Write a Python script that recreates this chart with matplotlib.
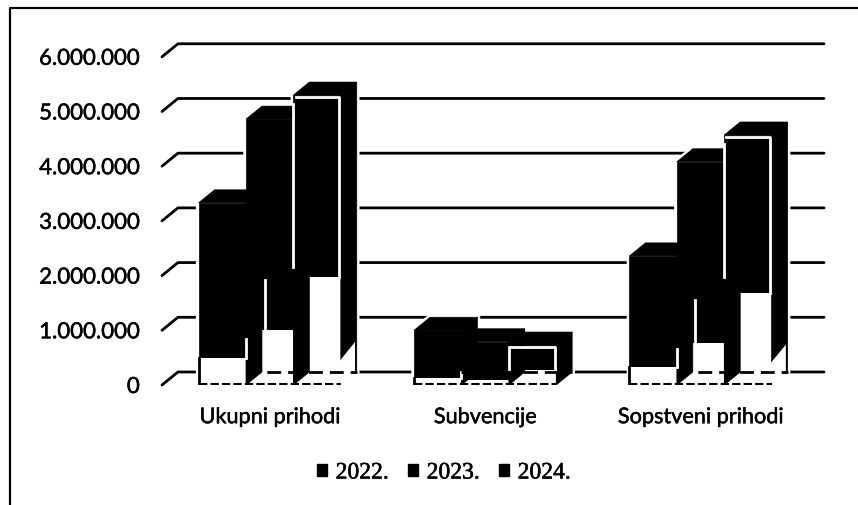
import matplotlib
matplotlib.use('Agg')
import matplotlib.pyplot as plt
import matplotlib.patheffects as pe
from matplotlib.lines import Line2D
from matplotlib.patches import Patch, Polygon, Rectangle

categories = ['Ukupni prihodi', 'Subvencije', 'Sopstveni prihodi']
years = ['2022.', '2023.', '2024.']
values_2022 = [3330000, 1000000, 2360000]
values_2023 = [4860000, 790000, 4080000]
values_2024 = [5300000, 730000, 4570000]
# height of the white part left at the foot of each bar by the scan
white_2022 = [500000, 130000, 330000]
white_2023 = [1000000, 90000, 770000]
white_2024 = [1970000, 270000, 1680000]
side_white_2024 = [550000, 0, 500000]
# where the white scan lines stop
sliver_2022 = [850000, 240000, 650000]
line_2023 = [1920000, 90000, 1550000]
line_2024 = [2160000, 300000, 1970000]
line_2024_gap = [170000, 30000, 170000]
yticks = [0, 1000000, 2000000, 3000000, 4000000, 5000000, 6000000]
ylabels = ['0', '1.000.000', '2.000.000', '3.000.000', '4.000.000', '5.000.000', '6.000.000']

plt.rcParams['font.family'] = ['Lato', 'DejaVu Sans']

W, H = 858, 505
fig = plt.figure(figsize=(W / 100, H / 100), dpi=100)
ax = fig.add_axes([162 / W, (H - 385) / H, (824 - 162) / W, (385 - 44) / H])
ax.set_xlim(-0.5, 2.573)
ax.set_ylim(0, 6234000)
ax.patch.set_alpha(0)
for s in ax.spines.values():
    s.set_visible(False)

dx = 0.074
dy = 238000
bar_w = 0.22

# back wall gridlines with the short slanted piece at the left
for t in yticks:
    ax.plot([-0.5, -0.5 + dx, 2.573], [t, t + dy, t + dy], color='black', lw=2, zorder=1,
            clip_on=False, solid_capstyle='round')

series = [values_2022, values_2023, values_2024]
whites = [white_2022, white_2023, white_2024]

# later years sit behind earlier ones, so the side of one bar hides the next bar
for j in range(3):
    for i in range(3):
        x0 = j + (i - 1.5) * bar_w
        x1 = x0 + bar_w
        v = series[i][j]
        w = whites[i][j]
        z = 10 - i
        outline = [(x0, 0), (x0, v), (x0 + dx, v + dy), (x1 + dx, v + dy), (x1 + dx, dy), (x1, 0)]
        ax.add_patch(Polygon(outline, fc='white', ec='white', lw=4, zorder=2))
        ax.add_patch(Rectangle((x0, 0), bar_w, v, fc='black', ec='black', lw=0.5, zorder=z))
        ax.add_patch(Rectangle((x0, 0), bar_w, w, fc='white', ec='none', zorder=z + 0.1))
        ax.add_patch(Polygon([(x0, v), (x0 + dx, v + dy), (x1 + dx, v + dy), (x1, v)],
                             fc='black', ec='black', lw=0.5, zorder=z + 0.3))
        ax.add_patch(Polygon([(x1, 0), (x1 + dx, dy), (x1 + dx, v + dy), (x1, v)],
                             fc='black', ec='black', lw=0.5, zorder=z + 0.3))

    x0 = j - 1.5 * bar_w
    x1 = x0 + 3 * bar_w
    # left edge of the first bar's foot
    ax.plot([x0, x0], [0, white_2022[j]], color='black', lw=2, zorder=12)
    # white foot on the side of the last bar
    if side_white_2024[j] > 0:
        ax.add_patch(Polygon([(x1 - 0.005, -30000), (x1 + dx - 0.008, -30000), (x1 + dx - 0.008, dy + side_white_2024[j]),
                              (x1 - 0.005, side_white_2024[j] * 0.8)], fc='white', ec='none', zorder=12))
    # white scan lines left over on the black
    ax.plot([x0 + bar_w, x0 + bar_w], [white_2022[j], sliver_2022[j]], color='white', lw=2, zorder=12)
    x_2023 = x0 + bar_w + dx + 0.012
    ax.plot([x_2023, x_2023], [white_2023[j], line_2023[j]], color='white', lw=2, zorder=12)
    x_2024 = x0 + 2 * bar_w
    top = values_2024[j]
    ax.plot([x_2024, x_2024], [line_2024[j], top - line_2024_gap[j]], color='white', lw=2, zorder=12)
    ax.plot([x_2024 + 0.01, x1 - 0.008, x1 - 0.008], [top - 40000, top - 40000, white_2024[j]],
            color='white', lw=2, zorder=12)
    # front edge and zero gridline showing through the white feet
    ax.plot([x0, x1], [20000, 20000], color='black', lw=1.5, ls=(0, (4, 1.5)), zorder=13)
    ax.plot([x0 + bar_w, x1 + dx], [dy, dy], color='black', lw=2, ls=(0, (5, 2.5)), zorder=13)

ax.set_yticks(yticks)
ax.set_yticklabels(ylabels, fontsize=16)
ax.set_xticks([0, 1, 2])
ax.set_xticklabels(categories, fontsize=15.6)
ax.tick_params(axis='y', length=0, pad=16)
ax.tick_params(axis='x', length=0, pad=16)
stroke = [pe.withStroke(linewidth=0.35, foreground='black')]
for t in ax.get_yticklabels() + ax.get_xticklabels():
    t.set_path_effects(stroke)

handles = [Patch(fc='black', ec='black') for y in years]
leg = ax.legend(handles, years, loc='center', bbox_to_anchor=(444 / W, (H - 473) / H),
                bbox_transform=fig.transFigure, ncol=3, frameon=False,
                prop={'family': 'Liberation Serif', 'size': 17},
                handlelength=0.42, handleheight=0.42, handletextpad=0.35, columnspacing=0.85)
for t in leg.get_texts():
    t.set_path_effects([pe.withStroke(linewidth=0.4, foreground='black')])

# what is left of the frame in the scan: top and left sides only
fig.add_artist(Line2D([9.5 / W, 9.5 / W, 1], [0, (H - 8) / H, (H - 8) / H], color='black', lw=1.6))

fig.savefig('out.png', dpi=100)
